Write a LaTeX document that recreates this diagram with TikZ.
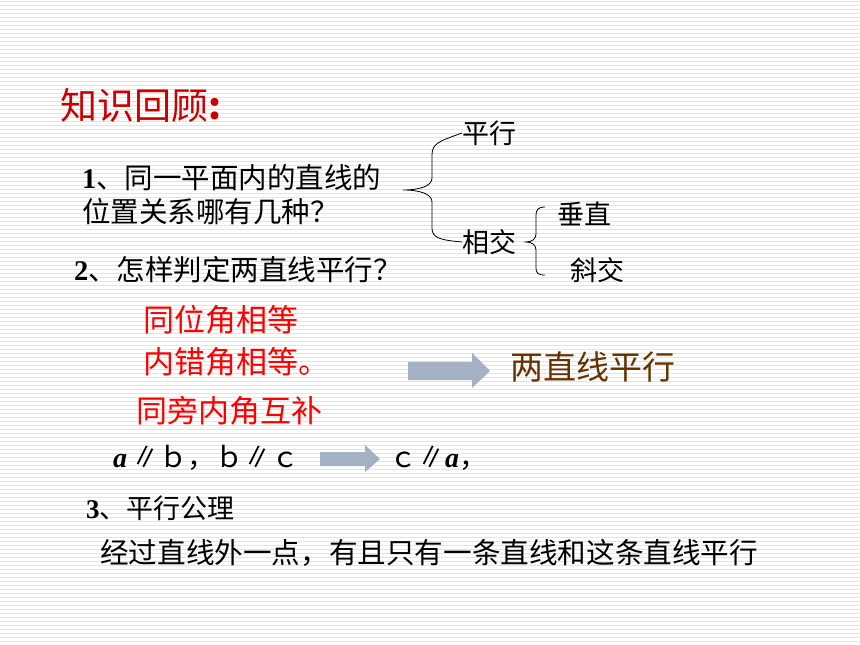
\documentclass[tikz,border=0pt]{standalone}
\usepackage{fontspec}
\setmainfont{Liberation Serif}
\newfontfamily\cjk{Noto Sans CJK SC}
\definecolor{titlered}{RGB}{204,0,0}
\definecolor{brightred}{RGB}{255,0,0}
\definecolor{brownish}{RGB}{102,51,0}
\definecolor{arrowgray}{RGB}{163,177,194}
\definecolor{stripe}{RGB}{228,228,228}
\newcommand{\fs}[1]{\fontsize{#1}{#1}\selectfont}
\begin{document}
\begin{tikzpicture}[x=1pt,y=-1pt,
  txt/.style={anchor=west,inner sep=0pt,text=black},
  bracestyle/.style={draw=black,line width=0.8pt},
  arrowfill/.style={fill=arrowgray,draw=none}]
\useasboundingbox (0,0) rectangle (860,645);
\fill[white] (0,0) rectangle (860,645);
\foreach \k in {0,...,161}{
  \draw[stripe,line width=1pt] (0,{\k*4+1}) -- (860,{\k*4+1});
}
% title
\node[txt,text=titlered] (title) at (60,105) {\cjk\fs{37}知识回顾\textbf{:}};
% question 1
\node[txt] (q1a) at (82,178) {\fs{28.5}\textbf{1}\cjk、同一平面内的直线的};
\node[txt] (q1b) at (82,212) {\cjk\fs{28.5}位置关系哪有几种？};
\node[txt] (q2) at (74,270) {\fs{28.5}\textbf{2}\cjk、怎样判定两直线平行？};
% big brace
\node[txt] (px) at (462,133) {\cjk\fs{27}平行};
\node[txt] (xj) at (462,242) {\cjk\fs{27}相交};
\coordinate (btip) at (403,190);
\draw[bracestyle] (px.west) .. controls (440,141) and (432,143) .. (432,155) -- (432,178)
  .. controls (432,186) and (420,190) .. (btip)
  .. controls (420,190) and (432,194) .. (432,202) -- (432,228)
  .. controls (432,238) and (440,240) .. (xj.west);
% small brace
\node[txt] (cz) at (557,214) {\cjk\fs{27}垂直};
\node[txt] (xie) at (570,270) {\cjk\fs{27}斜交};
\coordinate (stip) at (526,242);
\coordinate (stop) at (545,207);
\coordinate (sbot) at (545,275);
\draw[bracestyle] (stop) .. controls (538,207) and (536,210) .. (536,215) -- (536,234)
  .. controls (536,239) and (532,242) .. (stip)
  .. controls (532,242) and (536,245) .. (536,250) -- (536,268)
  .. controls (536,273) and (538,275) .. (sbot);
% red conditions
\node[txt,text=brightred] (c1) at (143,320) {\cjk\fs{31}同位角相等};
\node[txt,text=brightred] (c2) at (143,362) {\cjk\fs{31}内错角相等。};
\node[txt,text=brightred] (c3) at (136,411) {\cjk\fs{31}同旁内角互补};
% arrow 1
\fill[arrowfill] (408,362) -- (472,362) -- (472,353) -- (490,371) -- (472,388) -- (472,380) -- (408,380) -- cycle;
\node[txt,text=brownish] (res) at (510,367) {\cjk\fs{33}两直线平行};
% transitivity
\node[txt] (ab) at (113,458) {\fs{28}\textbf{\textit{a}}\,{\cjk ∥ｂ，ｂ∥ｃ}};
\fill[arrowfill] (320,452) -- (365,452) -- (365,445) -- (380,459) -- (365,472) -- (365,466) -- (320,466) -- cycle;
\node[txt] (ca) at (389,458) {\fs{28}{\cjk ｃ∥}\textbf{\textit{a}}{\cjk ，}};
% axiom
\node[txt] (q3) at (86,508) {\fs{27}\textbf{3}\cjk、平行公理};
\node[txt] (ax) at (100,553) {\cjk\fs{28.6}经过直线外一点，有且只有一条直线和这条直线平行};
\end{tikzpicture}
\end{document}
